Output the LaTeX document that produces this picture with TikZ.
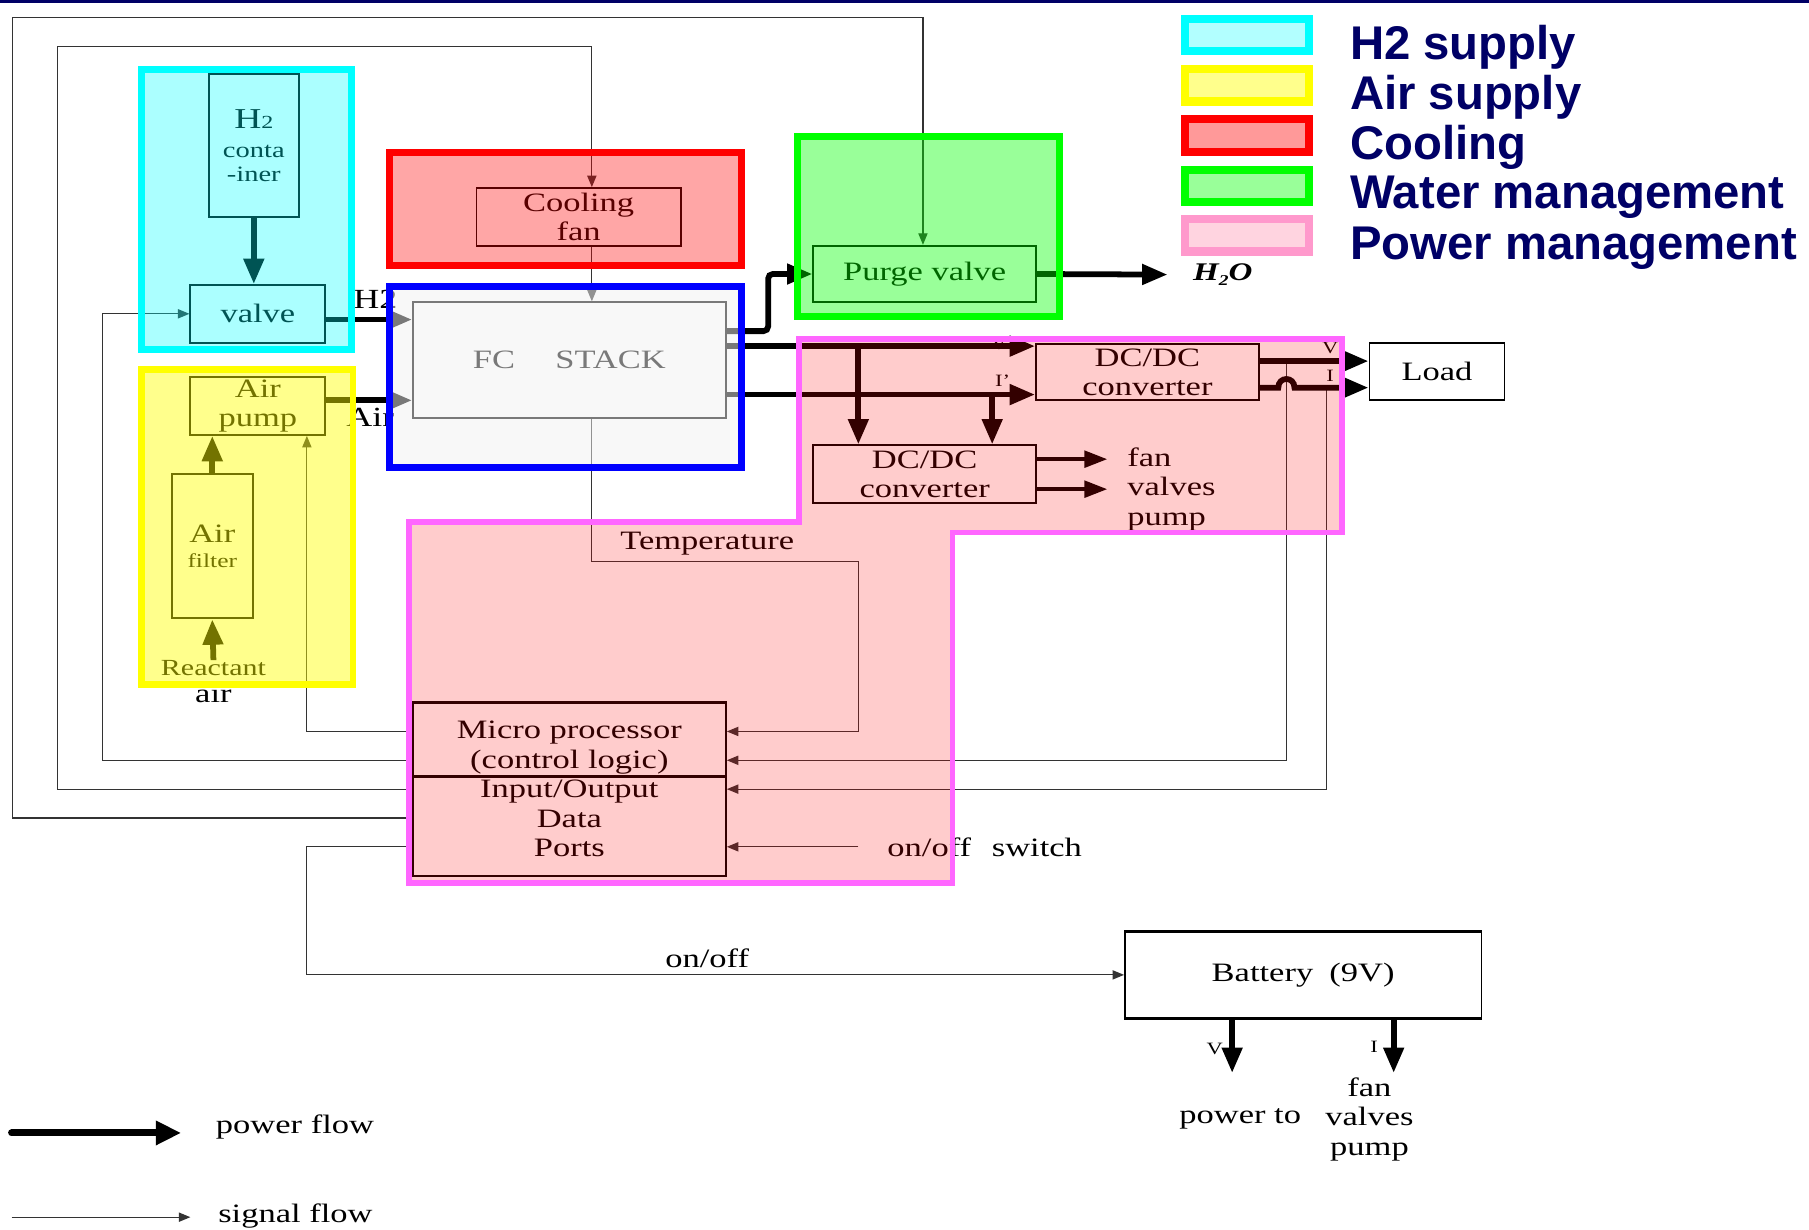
\documentclass[tikz,border=0pt]{standalone}
\usepackage{fontspec}
\setmainfont{Liberation Serif}[FakeStretch=1.3]
\newfontfamily\legfont{Liberation Sans}
\usetikzlibrary{arrows.meta,calc}
\definecolor{navy}{RGB}{0,0,102}
\definecolor{pwrb}{RGB}{255,102,255}
\definecolor{pwrl}{RGB}{255,153,204}
\definecolor{pwrf}{RGB}{255,212,224}
\definecolor{cyx}{RGB}{0,255,255}
\definecolor{yex}{RGB}{255,255,0}
\definecolor{rex}{RGB}{255,0,0}
\definecolor{grx}{RGB}{0,255,0}
\definecolor{blx}{RGB}{0,0,255}
\begin{document}
\begin{tikzpicture}[x=1pt,y=-1pt,
  txt/.style={inner sep=0pt, font=\fontsize{23}{25.5}\selectfont},
  smalltxt/.style={inner sep=0pt, font=\fontsize{15}{16}\selectfont},
  box/.style={draw, line width=1.6pt, inner sep=0pt, align=center, font=\fontsize{23}{25.5}\selectfont},
  sig/.style={line width=1pt, draw=black!80, -{Triangle[length=10pt,width=8pt]}},
  sigl/.style={line width=1pt, draw=black!80},
  pow/.style={line width=5pt, -{Triangle[length=22pt,width=17pt]}},
  powl/.style={line width=5pt},
  grp/.style={line width=6pt, fill opacity=0.35},
  legbox/.style={line width=7pt},
  legtxt/.style={inner sep=0pt, anchor=base west, text=navy, font=\legfont\bfseries\fontsize{41}{43}\selectfont},
]
\useasboundingbox (0,0) rectangle (1568,1066);
\fill[white] (0,0) rectangle (1568,1066);
\draw[navy, line width=3pt] (0,1.5) -- (1568,1.5);

% ---------- blocks ----------
\node[box, minimum width=78, minimum height=124] (h2c) at (220,126)
  {{\fontsize{25}{26}\selectfont H{\fontsize{16}{16}\selectfont 2}}\\{\fontsize{19}{20}\selectfont conta}\\[-5pt]{\fontsize{19}{20}\selectfont -iner}};
\node[box, minimum width=117, minimum height=50] (valve) at (223.5,272) {valve};
\node[box, minimum width=117, minimum height=50] (pump) at (223.5,352) {Air\\pump};
\node[box, minimum width=70, minimum height=125] (filter) at (184,473.5) {Air\\[-3.5pt]{\fontsize{17}{18}\selectfont filter}};
\node[txt, font=\fontsize{20}{22}\selectfont] (react) at (185,579) {Reactant};
\node[txt] (air) at (185,601) {air};
\node[box, minimum width=177, minimum height=50] (fan) at (501.5,188) {Cooling\\fan};
\node[box, minimum width=271, minimum height=100] (stack) at (493.5,312) {FC\hspace{35pt}STACK};
\node[box, minimum width=193, minimum height=49] (purge) at (801.5,237.5) {Purge valve};
\node[box, minimum width=193, minimum height=49] (dc1) at (994.5,322.5) {DC/DC\\converter};
\node[box, minimum width=193, minimum height=50] (dc2) at (801.5,411) {DC/DC\\converter};
\node[box, minimum width=117, minimum height=50] (load) at (1245.5,322) {Load};
\node[box, line width=2pt, minimum width=271, minimum height=150] (mp) at (493.5,684)
  {Micro processor\\(control logic)\\Input/Output\\Data\\Ports};
\draw[line width=2pt] ($(mp.west)+(0,-11)$) -- ($(mp.east)+(0,-11)$);
\node[box, line width=1.4pt, minimum width=309, minimum height=74] (bat) at (1129.5,845) {Battery\hspace{14pt}(9V)};
\draw[line width=3pt] (bat.north west) -- (bat.north east);
\draw[line width=3pt] (bat.south west) -- (bat.south east);

% ---------- labels ----------
\node[txt, font=\fontsize{24}{25}\selectfont, anchor=base west] (lh2) at (306,267) {H2};
\node[txt, font=\fontsize{24}{25}\selectfont, anchor=base west] (lair) at (300,370) {Air};
\node[txt] (temp) at (613,471) {Temperature};
\node[txt] (onoff) at (613,831) {on/off};
\node[txt, anchor=west] (sw) at (769,734) {on/off\hspace{18pt}switch};
\node[smalltxt] (lv1) at (866,298) {V};
\node[smalltxt] (li1) at (869,330) {I'};
\node[smalltxt] (lv2) at (1153,302) {V};
\node[smalltxt] (li2) at (1153,326) {I};
\node[txt, font=\fontsize{22}{24}\selectfont, anchor=west] (h2o) at (1034,238)
  {\bfseries\itshape H\raisebox{-5pt}{\fontsize{13}{13}\selectfont 2}O};
\node[txt, align=left, anchor=west] (fvp) at (977,424) {fan\\valves\\pump};
\node[smalltxt] (lbv) at (1053,909) {V};
\node[smalltxt] (lbi) at (1191,907) {I};
\node[txt] (pto) at (1075,970) {power to};
\node[txt, align=center] (bfvp) at (1187,970) {fan\\valves\\pump};
\node[txt, anchor=west] (lpf) at (187,977) {power flow};
\node[txt, anchor=west] (lsf) at (189,1054) {signal flow};

% ---------- coordinates ----------
\coordinate (cx) at (513,0);
\coordinate (j1) at (744,300);
\coordinate (j2) at (860,342);
\coordinate (t1) at (1115,313);
\coordinate (t2) at (1150,336);
\coordinate (fa) at (960,398);
\coordinate (va) at (960,424);
\coordinate (bv) at (1068,930);
\coordinate (bi) at (1208,930);
\coordinate (pf1) at (10,982);
\coordinate (pf2) at (157,982);
\coordinate (sf1) at (10,1055);
\coordinate (sf2) at (165,1055);

% ---------- signal connectors ----------
\draw[sig] ($(mp.west)+(0,-50)$) -| ($(pump.south)+(42.5,0)$);
\draw[sig] ($(mp.west)+(0,-25)$) -- (89,659) |- (valve.west);
\draw[sig] (mp.west) -- (50,684) -- (50,40) -| (cx |- fan.north);
\draw[sig] (cx |- fan.south) -- (cx |- stack.north);
\draw[sig] (cx |- stack.south) -- (513,487) -- (744,487) |- ($(mp.east)+(0,-50)$);
\draw[sig] ($(mp.west)+(0,25)$) -- (11,709) -- (11,15) -- (800,15) -- (800,0 |- purge.north);
\draw[sig] ($(mp.west)+(0,50)$) -- (266,734) |- (bat.west);
\draw[sig] (t1) |- ($(mp.east)+(0,-25)$);
\draw[sig] (t2) |- (mp.east);
\draw[sig] ([xshift=-25pt]sw.west) -- ($(mp.east)+(0,50)$);

% ---------- power connectors ----------
\draw[pow] (h2c.south) -- (h2c.south |- valve.north);
\draw[pow] ($(valve.east)+(0,5)$) -- ($(valve.east -| stack.west)+(0,5)$);
\draw[pow] ($(pump.east)+(0,-5)$) -- ($(pump.east -| stack.west)+(0,-5)$);
\draw[pow] (filter.north) -- (filter.north |- pump.south);
\draw[pow] (react.north) -- (filter.south);
\draw[pow, rounded corners=4pt] ($(stack.east)+(0,-25)$) -- ++(36,0) |- (purge.west);
\draw[pow] ($(stack.east)+(0,-12)$) -- ($(dc1.west)+(0,-22.5)$);
\draw[pow] ($(stack.east)+(0,30)$) -- ($(dc1.west)+(0,19.5)$);
\draw[pow] (j1) -- (j1 |- dc2.north);
\draw[pow] (j2) -- (j2 |- dc2.north);
\draw[pow] (purge.east) -- ([xshift=-22pt]h2o.west);
\draw[pow] ($(dc1.east)+(0,-9.5)$) -- ($(load.west)+(0,-9)$);
\draw[pow] ($(dc1.east)+(0,13.5)$) -- (1108,336) .. controls (1108,326) and (1122,326) .. (1122,336) -- ($(load.west)+(0,14)$);
\draw[pow, line width=4pt, -{Triangle[length=20pt,width=14pt]}] ($(dc2.east)+(0,-13)$) -- (fa);
\draw[pow, line width=4pt, -{Triangle[length=20pt,width=14pt]}] ($(dc2.east)+(0,13)$) -- (va);
\draw[pow] (bv |- bat.south) -- (bv);
\draw[pow] (bi |- bat.south) -- (bi);

% ---------- legend flows ----------
\draw[line width=6pt, line cap=round, -{Triangle[length=22pt,width=20pt]}] (pf1) -- (pf2);
\draw[sig] (sf1) -- (sf2);

% ---------- group overlays ----------
\draw[grp, draw=cyx, fill=cyx, fill opacity=0.33] (123,60) rectangle (305,303);
\draw[grp, draw=yex, fill=yex, fill opacity=0.45] (123,320) rectangle (306,593);
\draw[grp, draw=rex, fill=rex, fill opacity=0.35] (338,132) rectangle (643,230);
\draw[grp, draw=blx, fill=black!5, fill opacity=0.5] (338,248) rectangle (643,405);
\draw[grp, draw=grx, fill=grx, fill opacity=0.4] (691,118) rectangle (918,274);
\draw[line width=5pt, draw=pwrb, fill=rex, fill opacity=0.2]
  (354.5,452.5) -- (692.5,452.5) -- (692.5,293.5) -- (1163.5,293.5) -- (1163.5,461.5)
  -- (825.5,461.5) -- (825.5,765.5) -- (354.5,765.5) -- cycle;

% ---------- legend ----------
\draw[legbox, draw=cyx, fill=cyx!30] (1027.5,16.5) rectangle (1134.5,44.5);
\draw[legbox, draw=yex, fill=yex!45] (1027.5,60) rectangle (1134.5,88);
\draw[legbox, draw=rex, fill=rex!40] (1027.5,103.5) rectangle (1134.5,131.5);
\draw[legbox, draw=grx, fill=grx!40] (1027.5,147) rectangle (1134.5,175);
\draw[legbox, draw=pwrl, fill=pwrf] (1027.5,190) rectangle (1134.5,218);
\node[legtxt] (lg1) at (1170,52) {H2 supply};
\node[legtxt] (lg2) at (1170,95) {Air supply};
\node[legtxt] (lg3) at (1170,138) {Cooling};
\node[legtxt] (lg4) at (1170,181) {Water management};
\node[legtxt] (lg5) at (1170,225) {Power management};
\end{tikzpicture}
\end{document}
